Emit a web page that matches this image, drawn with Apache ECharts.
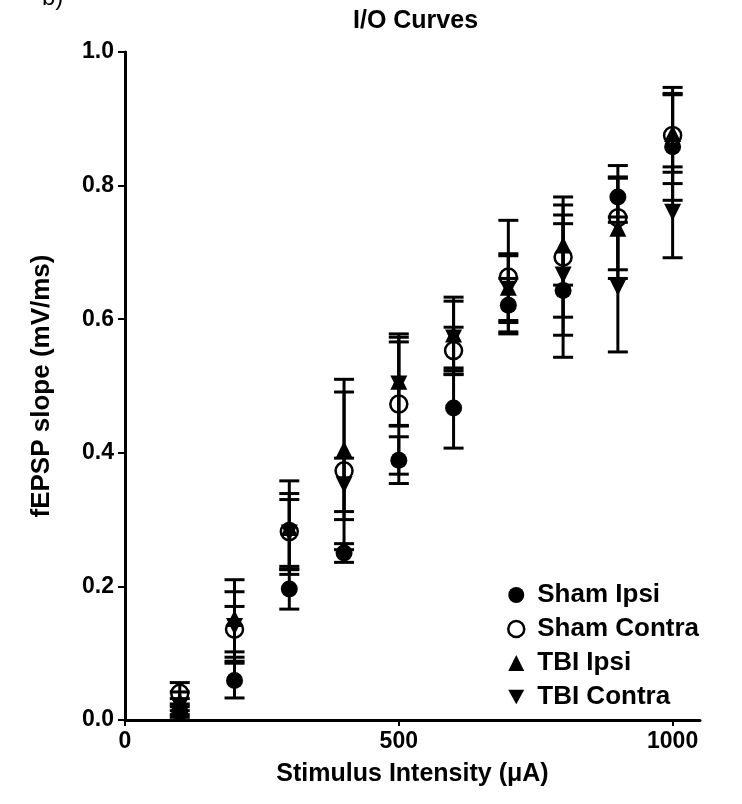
<!DOCTYPE html>
<html>
<head>
<meta charset="utf-8">
<script src="https://cdn.jsdelivr.net/npm/echarts@6/dist/echarts.min.js"></script>
<style>
html,body{margin:0;padding:0;background:#fff;}
#chart{width:742px;height:804px;}
</style>
</head>
<body>
<div id="chart"></div>
<script>
// ---- data ----
var intensities = [100, 200, 300, 400, 500, 600, 700, 800, 900, 1000];
var shamIpsi      = [0.012, 0.059, 0.196, 0.250, 0.389, 0.467, 0.621, 0.643, 0.783, 0.858];
var shamIpsiErr   = [0.008, 0.026, 0.030, 0.014, 0.035, 0.060, 0.040, 0.100, 0.030, 0.080];
var shamContra    = [0.040, 0.136, 0.282, 0.373, 0.473, 0.553, 0.663, 0.693, 0.752, 0.875];
var shamContraErr = [0.016, 0.034, 0.057, 0.118, 0.105, 0.035, 0.085, 0.090, 0.078, 0.072];
var tbiIpsi       = [0.028, 0.152, 0.288, 0.405, 0.507, 0.578, 0.648, 0.711, 0.736, 0.878];
var tbiIpsiErr    = [0.014, 0.058, 0.070, 0.105, 0.066, 0.055, 0.050, 0.060, 0.075, 0.058];
var tbiContra     = [0.020, 0.140, 0.280, 0.352, 0.503, 0.572, 0.645, 0.666, 0.648, 0.760];
var tbiContraErr  = [0.012, 0.052, 0.050, 0.040, 0.063, 0.055, 0.050, 0.090, 0.097, 0.068];
var seriesNames = ['Sham Ipsi', 'Sham Contra', 'TBI Ipsi', 'TBI Contra'];
var xTicks = [0, 500, 1000];
var chartTitle = 'I/O Curves';
var xName = 'Stimulus Intensity (\u03bcA)';
var yName = 'fEPSP slope (mV/ms)';

var FONT = '"Liberation Sans", Arial, sans-serif';
var DOWN_TRI = 'path://M0,0 L10,0 L5,9 Z';

function pts(vals) { return intensities.map(function (x, i) { return [x, vals[i]]; }); }
function errs(vals, e) { return intensities.map(function (x, i) { return [x, vals[i] - e[i], vals[i] + e[i]]; }); }

function errRender(params, api) {
  var x = api.value(0), lo = api.value(1), hi = api.value(2);
  var pLo = api.coord([x, lo]), pHi = api.coord([x, hi]);
  var hw = 10;
  var st = { stroke: '#000', lineWidth: 3 };
  return {
    type: 'group',
    children: [
      { type: 'line', shape: { x1: pLo[0], y1: pLo[1], x2: pHi[0], y2: pHi[1] }, style: st },
      { type: 'line', shape: { x1: pLo[0] - hw, y1: pLo[1], x2: pLo[0] + hw, y2: pLo[1] }, style: st },
      { type: 'line', shape: { x1: pHi[0] - hw, y1: pHi[1], x2: pHi[0] + hw, y2: pHi[1] }, style: st }
    ]
  };
}

var markerDefs = [
  { vals: shamIpsi, err: shamIpsiErr, symbol: 'circle', size: 17, style: { color: '#000', opacity: 1 } },
  { vals: shamContra, err: shamContraErr, symbol: 'circle', size: 17, style: { color: '#fff', borderColor: '#000', borderWidth: 2.5, opacity: 1 } },
  { vals: tbiIpsi, err: tbiIpsiErr, symbol: 'triangle', size: 17, style: { color: '#000', opacity: 1 } },
  { vals: tbiContra, err: tbiContraErr, symbol: DOWN_TRI, size: 17, style: { color: '#000', opacity: 1 } }
];

var series = [];
markerDefs.forEach(function (d, i) {
  series.push({
    name: seriesNames[i], type: 'scatter', data: pts(d.vals),
    symbol: d.symbol, symbolSize: d.size, itemStyle: d.style, z: 3,
    emphasis: { disabled: true }, silent: true
  });
});
markerDefs.forEach(function (d, i) {
  series.push({
    name: seriesNames[i] + ' err', type: 'custom', data: errs(d.vals, d.err),
    renderItem: errRender, z: 4, silent: true
  });
});

var chart = echarts.init(document.getElementById('chart'), null, { renderer: 'canvas' });
chart.setOption({
  animation: false,
  backgroundColor: '#fff',
  title: {
    text: chartTitle, left: 348, top: 4,
    textStyle: { fontFamily: FONT, fontSize: 25, fontWeight: 'bold', color: '#000' }
  },
  graphic: [{
    type: 'text', left: 42, top: -14,
    style: { text: 'b)', font: '24px ' + FONT, fill: '#000' }
  }],
  grid: { left: 125, right: 42, top: 52, bottom: 84, containLabel: false },
  legend: {
    data: seriesNames.map(function (n, i) {
      return { name: n, icon: markerDefs[i].symbol, itemStyle: markerDefs[i].style };
    }),
    orient: 'vertical', left: 502, top: 577,
    itemWidth: 16, itemHeight: 16, itemGap: 8,
    textStyle: { fontFamily: FONT, fontSize: 26, fontWeight: 'bold', color: '#000', padding: [0, 0, 0, 8] },
    selectedMode: false
  },
  xAxis: {
    type: 'value', min: 0, max: 1050,
    name: xName, nameLocation: 'middle', nameGap: 42,
    nameTextStyle: { fontFamily: FONT, fontSize: 25, fontWeight: 'bold', color: '#000' },
    axisLine: { lineStyle: { color: '#000', width: 3 } },
    axisTick: { show: true, length: 6, lineStyle: { color: '#000', width: 2 }, customValues: xTicks },
    axisLabel: { customValues: xTicks, margin: 10, fontFamily: FONT, fontSize: 23, fontWeight: 'bold', color: '#000',
      formatter: function (v) { return String(v); } },
    splitLine: { show: false }
  },
  yAxis: {
    type: 'value', min: 0, max: 1, interval: 0.2,
    name: yName, nameLocation: 'middle', nameGap: 70,
    nameTextStyle: { fontFamily: FONT, fontSize: 26, fontWeight: 'bold', color: '#000' },
    axisLine: { show: true, lineStyle: { color: '#000', width: 3 } },
    axisTick: { show: true, length: 7, lineStyle: { color: '#000', width: 2 } },
    axisLabel: { margin: 11, fontFamily: FONT, fontSize: 23, fontWeight: 'bold', color: '#000',
      formatter: function (v) { return v.toFixed(1); } },
    splitLine: { show: false }
  },
  series: series
});
</script>
</body>
</html>
